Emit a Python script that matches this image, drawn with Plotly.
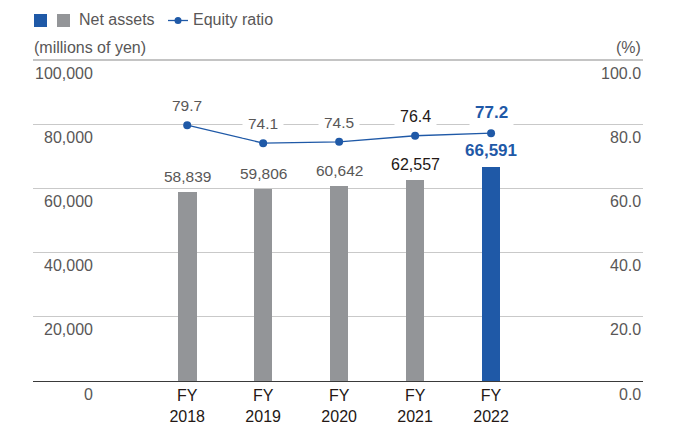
import plotly.graph_objects as go

# Fiscal years and series values
years = ["FY<br>2018", "FY<br>2019", "FY<br>2020", "FY<br>2021", "FY<br>2022"]
net_assets = [58839, 59806, 60642, 62557, 66591]
equity_ratio = [79.7, 74.1, 74.5, 76.4, 77.2]

left_ticks = [0, 20000, 40000, 60000, 80000, 100000]
left_tick_text = ["0", "20,000", "40,000", "60,000", "80,000", "100,000"]
right_ticks = [0, 20, 40, 60, 80, 100]
right_tick_text = ["0.0", "20.0", "40.0", "60.0", "80.0", "100.0"]

GRAY_BAR = "#939598"
BLUE = "#1f59a7"
TEXT_GRAY = "#595757"
TEXT_DARK = "#231815"
FONT = "Liberation Sans, Arial, sans-serif"

W, H = 685, 424
L, R, T, B = 33, 42, 60, 43
PW, PH = W - L - R, H - T - B


def px_x(x):
    return (x - L) / PW


def px_y(y):
    return (H - B - y) / PH


xpos = list(range(len(years)))
bar_colors = [GRAY_BAR] * (len(years) - 1) + [BLUE]

fig = go.Figure()
fig.add_trace(go.Bar(
    x=xpos, y=net_assets, marker_color=bar_colors, width=0.245,
    marker_line_width=0, hoverinfo="skip", showlegend=False,
))
fig.add_trace(go.Scatter(
    x=xpos, y=equity_ratio, yaxis="y2", mode="lines+markers",
    line=dict(color=BLUE, width=1.3), marker=dict(color=BLUE, size=8),
    hoverinfo="skip", showlegend=False,
))

annotations = []
label_styles = [(TEXT_GRAY, 15.5, False)] * 3 + [(TEXT_DARK, 16, False), (BLUE, 17, True)]

# Value labels above bars and line markers
for i, (v, r) in enumerate(zip(net_assets, equity_ratio)):
    color, size, bold = label_styles[i]
    fmt_v = f"{v:,}"
    fmt_r = f"{r:.1f}"
    if bold:
        fmt_v = f"<b>{fmt_v}</b>"
        fmt_r = f"<b>{fmt_r}</b>"
    annotations.append(dict(
        x=i, y=v, xref="x", yref="y", text=fmt_v, showarrow=False,
        yanchor="bottom", yshift=5, font=dict(family=FONT, size=size, color=color),
    ))
    annotations.append(dict(
        x=i, y=r, xref="x", yref="y2", text=fmt_r, showarrow=False,
        yanchor="bottom", yshift=5, font=dict(family=FONT, size=size, color=color),
        bgcolor="white", borderpad=5,
    ))

# Axis value labels, set just below each gridline
for v, t in zip(left_ticks, left_tick_text):
    annotations.append(dict(
        x=px_x(95), y=v, xref="paper", yref="y", text=t, showarrow=False,
        xanchor="right", yanchor="middle", yshift=-13,
        font=dict(family=FONT, size=16, color=TEXT_GRAY),
    ))
for v, t in zip(right_ticks, right_tick_text):
    annotations.append(dict(
        x=px_x(643), y=v, xref="paper", yref="y2", text=t, showarrow=False,
        xanchor="right", yanchor="middle", yshift=-13,
        font=dict(family=FONT, size=16, color=TEXT_GRAY),
    ))

# Unit captions
annotations.append(dict(
    x=px_x(32), y=px_y(47), xref="paper", yref="paper", text="(millions of yen)",
    showarrow=False, xanchor="left", yanchor="middle",
    font=dict(family=FONT, size=16, color=TEXT_GRAY),
))
annotations.append(dict(
    x=px_x(643), y=px_y(47), xref="paper", yref="paper", text="(%)",
    showarrow=False, xanchor="right", yanchor="middle",
    font=dict(family=FONT, size=16, color=TEXT_GRAY),
))

# Legend
annotations.append(dict(
    x=px_x(77), y=px_y(20), xref="paper", yref="paper", text="Net assets",
    showarrow=False, xanchor="left", yanchor="middle",
    font=dict(family=FONT, size=16, color=TEXT_GRAY),
))
annotations.append(dict(
    x=px_x(191), y=px_y(20), xref="paper", yref="paper", text="Equity ratio",
    showarrow=False, xanchor="left", yanchor="middle",
    font=dict(family=FONT, size=16, color=TEXT_GRAY),
))

shapes = [
    dict(type="rect", xref="paper", yref="paper", x0=px_x(34), x1=px_x(47),
         y0=px_y(27), y1=px_y(14), fillcolor=BLUE, line_width=0),
    dict(type="rect", xref="paper", yref="paper", x0=px_x(57), x1=px_x(70),
         y0=px_y(27), y1=px_y(14), fillcolor=GRAY_BAR, line_width=0),
    dict(type="line", xref="paper", yref="paper", x0=px_x(168), x1=px_x(188),
         y0=px_y(20.5), y1=px_y(20.5), line=dict(color=BLUE, width=1.3)),
    dict(type="circle", xref="paper", yref="paper", x0=px_x(174.5), x1=px_x(181.5),
         y0=px_y(24), y1=px_y(17), fillcolor=BLUE, line_width=0),
    # top rule under the unit captions
    dict(type="line", xref="paper", yref="paper", x0=0, x1=1, y0=1, y1=1,
         line=dict(color="#8a8a8a", width=1.2)),
]

fig.update_layout(
    width=W, height=H,
    margin=dict(l=L, r=R, t=T, b=B, autoexpand=False),
    paper_bgcolor="white", plot_bgcolor="white",
    font=dict(family=FONT, size=16, color=TEXT_GRAY),
    bargap=0,
    xaxis=dict(
        range=[-2.03, 6.0], tickvals=xpos, ticktext=years, automargin=False,
        showgrid=False, zeroline=False, showline=True, linecolor="#3a3a3a", linewidth=1.3,
        ticks="", tickfont=dict(family=FONT, size=16, color=TEXT_DARK),
        fixedrange=True,
    ),
    yaxis=dict(
        range=[0, 100000], tickvals=left_ticks[1:-1], showticklabels=False,
        showgrid=True, gridcolor="#c9c9c9", gridwidth=1.2, zeroline=False,
        showline=False, fixedrange=True, automargin=False,
    ),
    yaxis2=dict(
        range=[0, 100], overlaying="y", side="right", showticklabels=False,
        showgrid=False, zeroline=False, showline=False, fixedrange=True,
        automargin=False,
    ),
    annotations=annotations,
    shapes=shapes,
    showlegend=False,
)

fig.write_html("out.html")
